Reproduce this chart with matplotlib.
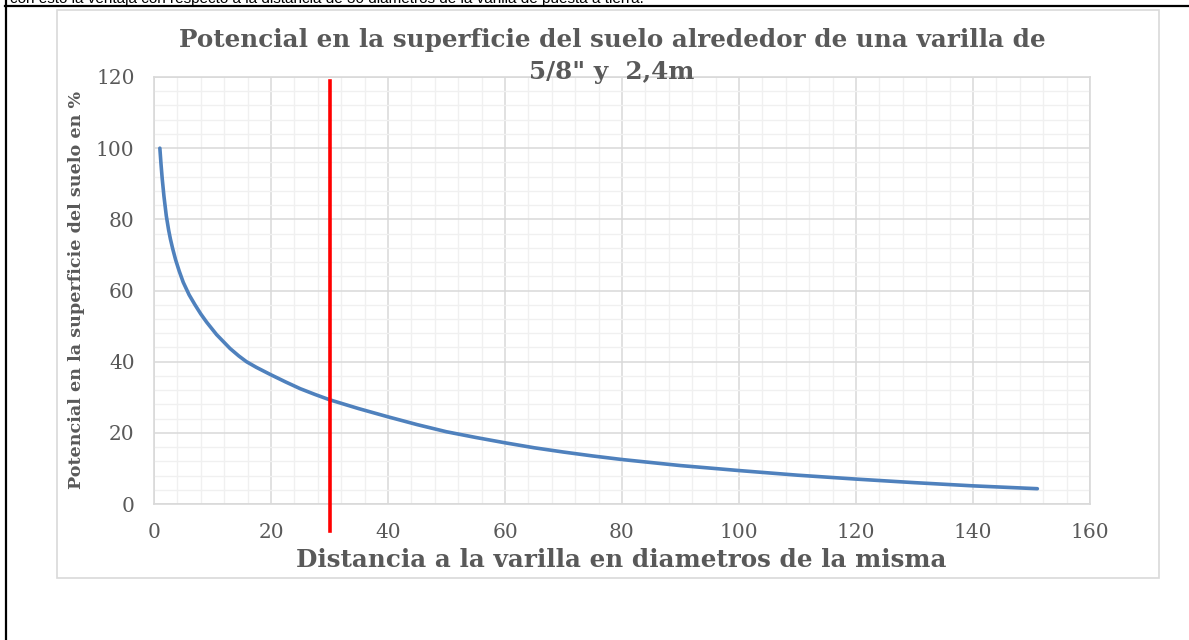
import matplotlib

matplotlib.use("Agg")
import matplotlib.pyplot as plt
from matplotlib.lines import Line2D
from matplotlib.patches import Rectangle

W, H = 1189, 640

# values
dist = [1, 1.2, 1.4, 1.7, 2.1, 2.5, 2.8, 3.2, 3.7, 4.3, 5, 6, 7, 8, 9, 10.7, 12, 13,
        14.5, 15.8, 17.5, 20, 22.5, 25, 27.5, 30, 35, 40, 45, 50, 55, 60, 65, 70,
        75, 80, 90, 100, 110, 120, 130, 140, 151]
pot = [100, 95.5, 91.5, 86.5, 81, 77, 74.5, 71.7, 68.6, 65.5, 62.3, 58.8, 56, 53.4,
       51.1, 47.6, 45.4, 43.7, 41.6, 40, 38.4, 36.3, 34.3, 32.4, 30.8, 29.3, 26.8,
       24.5, 22.3, 20.3, 18.7, 17.2, 15.8, 14.6, 13.5, 12.5, 10.8, 9.4, 8.1, 7.0,
       6.0, 5.1, 4.3]
marker_x = 30
marker_span = (-7.6, 118.8)

title_1 = "Potencial en la superficie del suelo alrededor de una varilla de"
title_2 = "5/8\" y  2,4m"
xlabel = "Distancia a la varilla en diametros de la misma"
ylabel = "Potencial en la superficie del suelo en %"
top_text = "con esto la ventaja con respecto a la distancia de 30 diámetros de la varilla de puesta a tierra."

GRAY = "#595959"
SERIF = ["DejaVu Serif"]


def fx(px):
    return px / W


def fy(py):
    return 1 - py / H


fig = plt.figure(figsize=(W / 100, H / 100), dpi=100)
fig.patch.set_facecolor("white")

# table cell borders around the chart
fig.add_artist(Line2D([fx(5), 1], [fy(6), fy(6)], color="black", lw=1.6))
fig.add_artist(Line2D([fx(6), fx(6)], [0, 1], color="black", lw=1.6))
fig.text(fx(10), fy(2.5), top_text, fontsize=11, family="Liberation Sans",
         color="black", va="baseline", ha="left")

# chart frame
fig.add_artist(Rectangle((fx(57), fy(578)), fx(1159) - fx(57), fy(10) - fy(578),
                         transform=fig.transFigure, fill=False,
                         edgecolor="#d9d9d9", lw=1.2))

ax = fig.add_axes([fx(154), fy(504), fx(1090) - fx(154), fy(77) - fy(504)])
ax.set_xlim(0, 160)
ax.set_ylim(0, 120)
ax.set_xticks(range(0, 161, 20))
ax.set_yticks(range(0, 121, 20))
ax.set_xticks(range(0, 161, 4), minor=True)
ax.set_yticks(range(0, 121, 4), minor=True)
ax.grid(which="minor", color="#f0f0f0", lw=1.0)
ax.grid(which="major", color="#d9d9d9", lw=1.1)
ax.set_axisbelow(True)
for s in ax.spines.values():
    s.set_color("#d9d9d9")
    s.set_linewidth(1.2)
ax.tick_params(which="both", length=0)
ax.tick_params(axis="y", pad=14)
ax.tick_params(axis="x", pad=14)
for lab in ax.get_xticklabels() + ax.get_yticklabels():
    lab.set_fontfamily(SERIF)
    lab.set_fontsize(14.5)
    lab.set_color(GRAY)

ax.plot(dist, pot, color="#4f81bd", lw=2.6, solid_capstyle="round",
        solid_joinstyle="round", zorder=3)
ax.plot([marker_x, marker_x], marker_span, color="#ff0000", lw=2.6,
        clip_on=False, zorder=4)

fig.text(fx(612), fy(47), title_1, fontsize=17.7, fontweight="bold", family=SERIF,
         color=GRAY, ha="center", va="baseline")
fig.text(fx(612), fy(79), title_2, fontsize=17.7, fontweight="bold", family=SERIF,
         color=GRAY, ha="center", va="baseline")
fig.text(fx(621), fy(567), xlabel, fontsize=17.7, fontweight="bold", family=SERIF,
         color=GRAY, ha="center", va="baseline")
fig.text(fx(77), fy(290), ylabel, fontsize=12.6, fontweight="bold", family=SERIF,
         color=GRAY, ha="center", va="center", rotation=90)

fig.savefig("out.png", dpi=100)
